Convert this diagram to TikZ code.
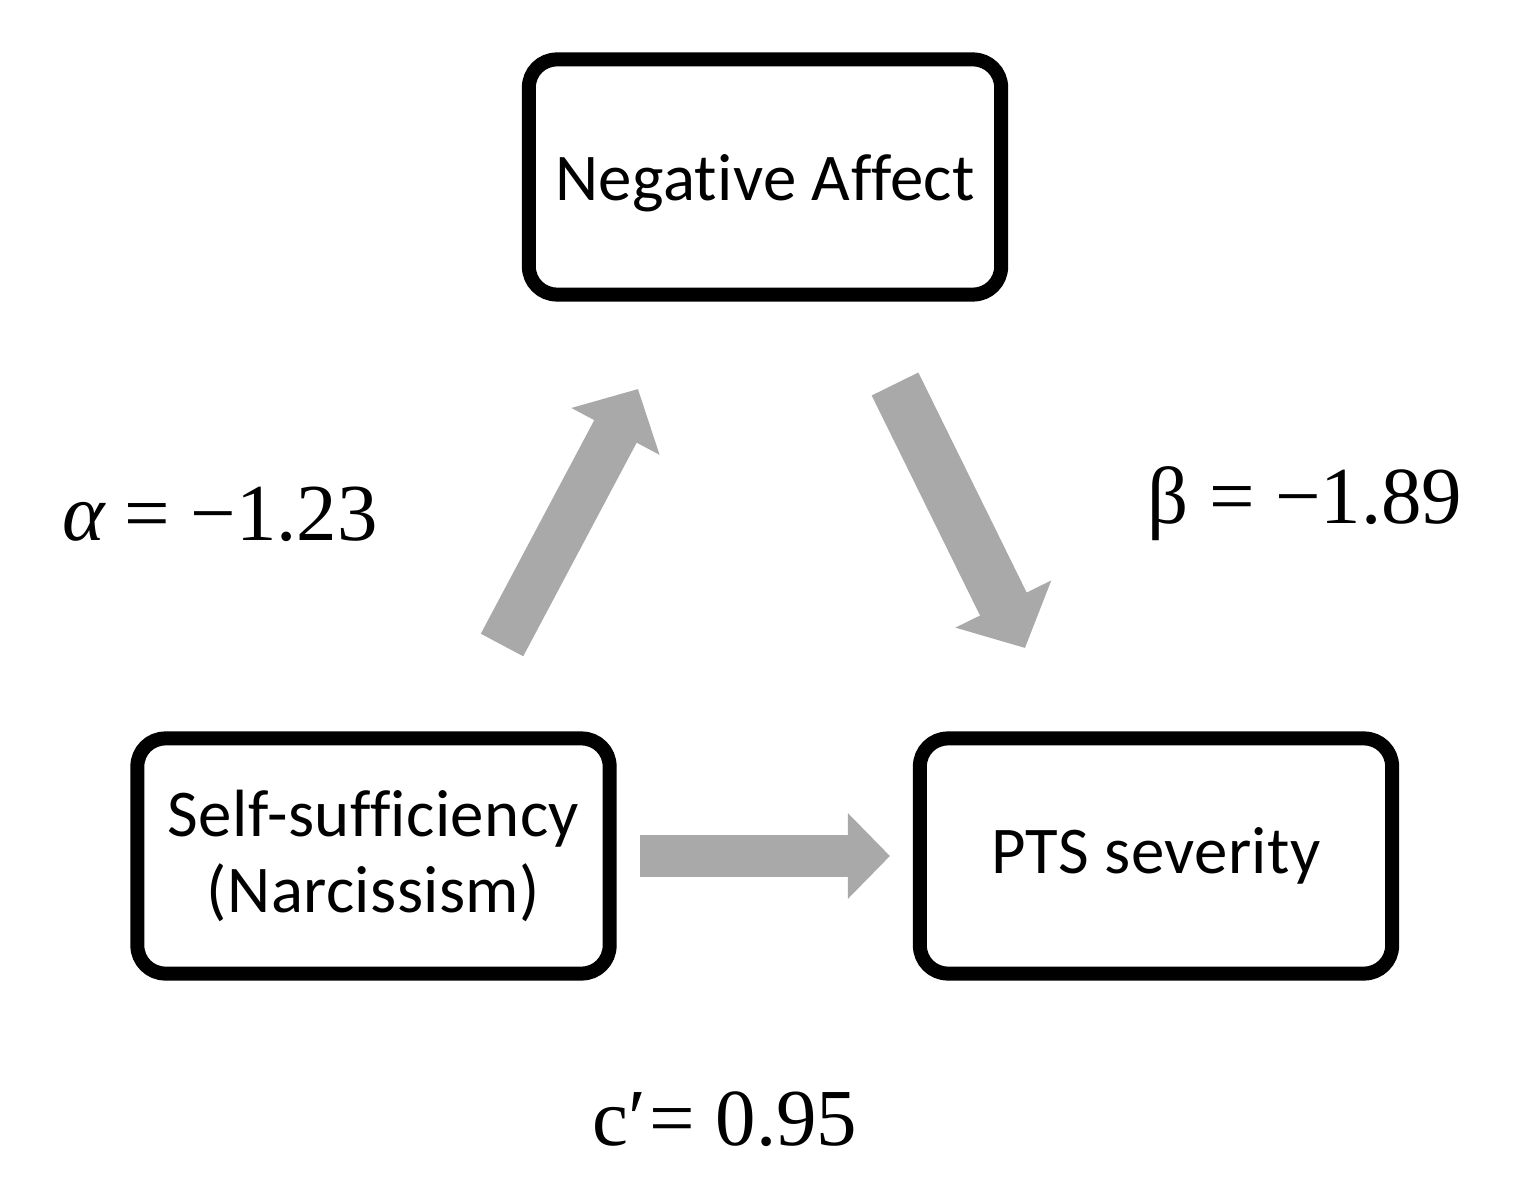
\documentclass[tikz,border=0pt]{standalone}
\usepackage{fontspec}
\setmainfont{Carlito}[Ligatures={NoCommon}, LetterSpace=0.6]
\newfontfamily\labfont{Liberation Serif}
\usetikzlibrary{arrows.meta}
\definecolor{arrowgray}{HTML}{A9A9A9}
\begin{document}
\begin{tikzpicture}[x=0.01cm,y=-0.01cm,
  varbox/.style={draw=black, line width=0.14cm, rounded corners=0.28cm, fill=white,
    minimum width=4.72cm, minimum height=2.35cm, align=center,
    font=\fontsize{19}{21.5}\selectfont, inner sep=0pt},
  fatarrow/.style={draw=arrowgray, line width=#1},
  coef/.style={anchor=base, inner sep=0pt, font=\labfont\fontsize{23}{26}\selectfont}]
\useasboundingbox (0,0) rectangle (1518,1188);
\node[varbox, text height=0.5cm, text depth=0.04cm] (na) at (765,177) {Negative Affect};
\node[varbox] (ss) at (373.5,856) {Self-sufficiency\\(Narcissism)};
\node[varbox] (pts) at (1156,856) {PTS severity};
% arrow end points
\coordinate (ua1) at (502,645);
\coordinate (ua2) at (638,389);
\coordinate (da1) at (895,384);
\coordinate (da2) at (1025,648);
\coordinate (ha1) at (640,856);
\coordinate (ha2) at (890,856);
\draw[fatarrow=0.48cm, -{Triangle[width=0.97cm,length=0.48cm]}, arrowgray] (ua1) -- (ua2);
\draw[fatarrow=0.52cm, -{Triangle[width=1.04cm,length=0.49cm]}, arrowgray] (da1) -- (da2);
\draw[fatarrow=0.42cm, -{Triangle[width=0.83cm,length=0.42cm]}, arrowgray] (ha1) -- (ha2);
\node[coef] (alab) at (220,540) {{\itshape α} = −1.23};
\node[coef] (blab) at (1305,523) {β = −1.89};
\node[coef] (clab) at (725,1145) {c′\kern1pt= 0.95};
\end{tikzpicture}
\end{document}
